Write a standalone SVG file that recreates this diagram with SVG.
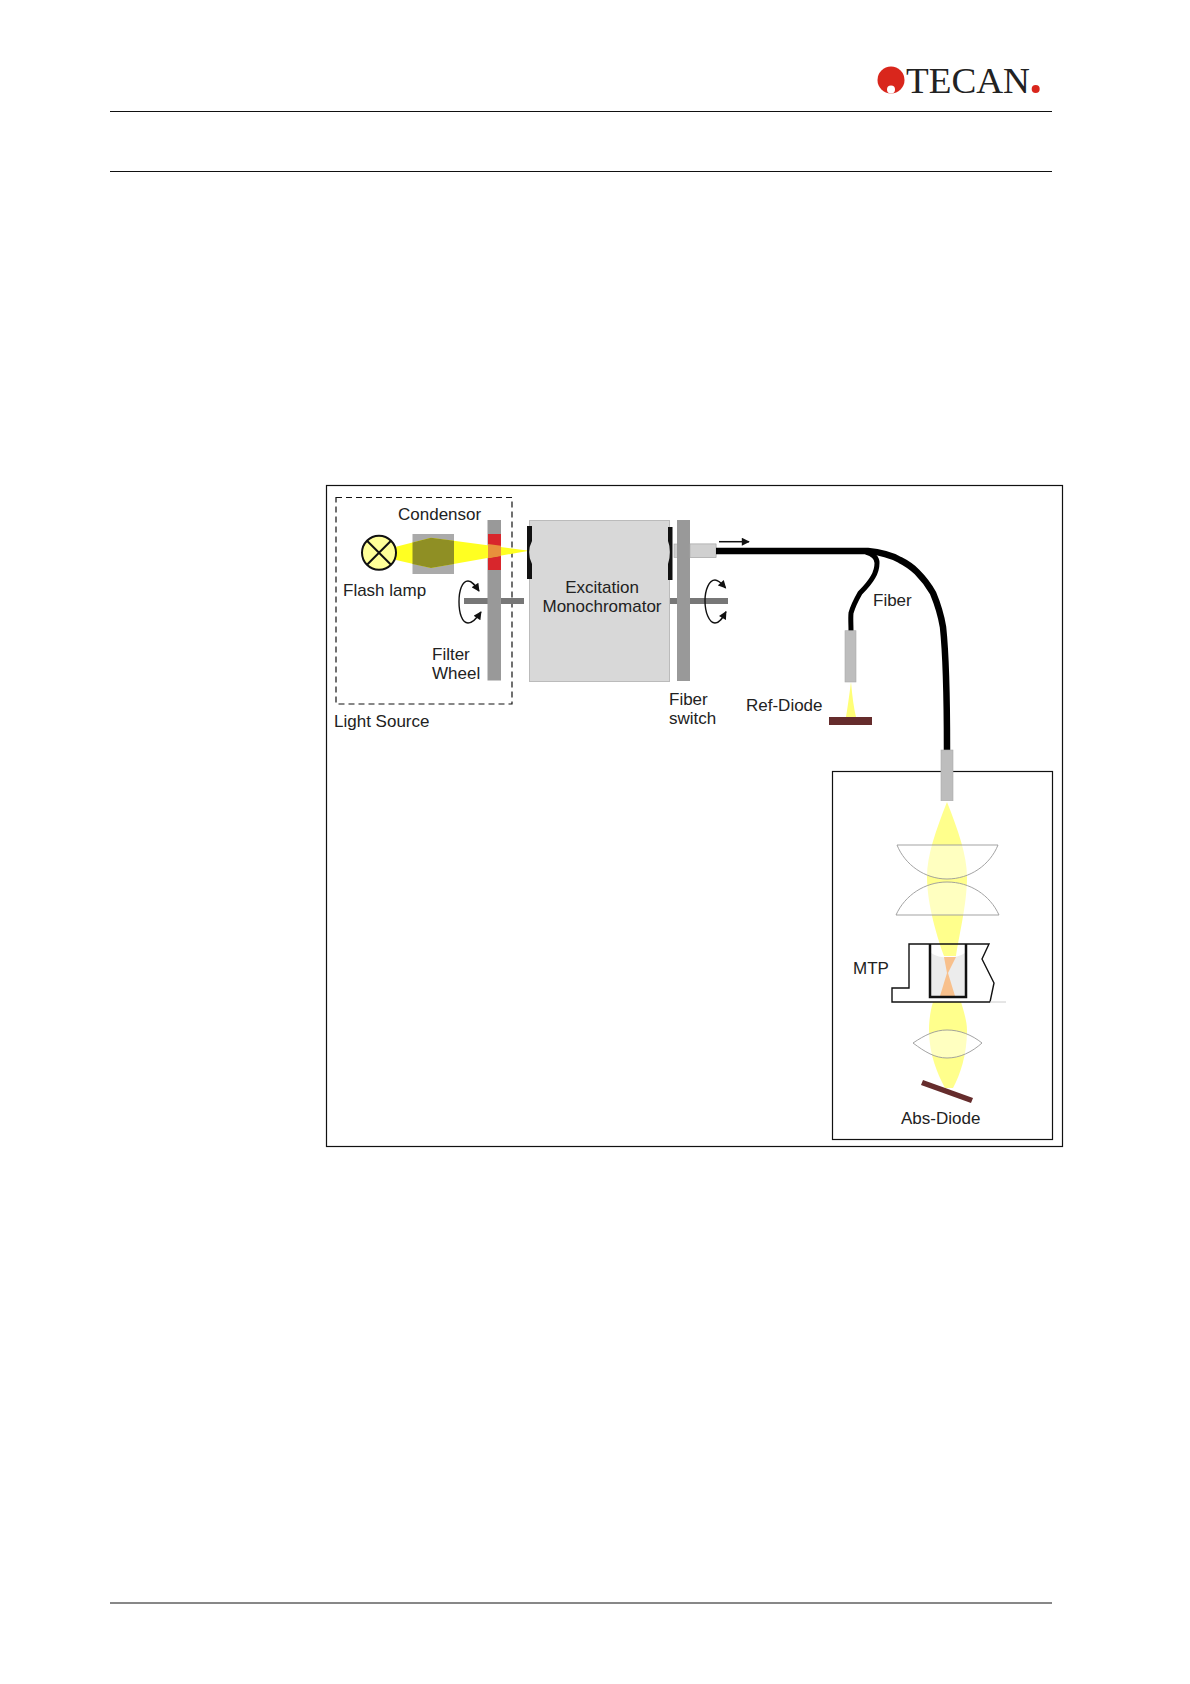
<svg xmlns="http://www.w3.org/2000/svg" width="1190" height="1684" viewBox="0 0 1190 1684">
<style>
text{font-family:"Liberation Sans",Arial,sans-serif;font-size:17px;fill:#222}
.rule{stroke:#111;stroke-width:1;fill:none}
.frame{fill:none;stroke:#111;stroke-width:1.2}
.wheel{fill:#999}
.axle{fill:#777}
.ferrule{fill:#bdbdbd;stroke:#aaa;stroke-width:.6}
.beam{fill:#ffff8c}
.lens{fill:#fff;fill-opacity:.45;stroke:#999;stroke-width:.9}
.rot{fill:none;stroke:#111;stroke-width:1.4;marker-start:url(#ah);marker-end:url(#ah)}
.fiber{fill:none;stroke:#000;stroke-linecap:butt;stroke-linejoin:round}
.slit{fill:#111}
.diode{fill:#652c2c}
</style>
<defs>
<marker id="ah" viewBox="0 0 10 10" refX="9" refY="5" markerWidth="9" markerHeight="8" markerUnits="userSpaceOnUse" orient="auto-start-reverse"><path d="M0 0L10 5L0 10Z" fill="#111"/></marker>
<marker id="ah2" viewBox="0 0 10 10" refX="9" refY="5" markerWidth="9" markerHeight="8" markerUnits="userSpaceOnUse" orient="auto"><path d="M0 0L10 5L0 10Z" fill="#111"/></marker>
</defs>
<rect width="1190" height="1684" fill="#fff"/>
<g id="page-rules">
<path class="rule" d="M110 111.500H1052M110 171.500H1052M110 1603H1052"/>
</g>
<g id="logo">
<circle cx="891" cy="80" r="13.500" fill="#d9261c"/>
<circle cx="891" cy="89.500" r="4" fill="#fff"/>
<text x="906" y="93" textLength="124" lengthAdjust="spacingAndGlyphs" style="font-family:'Liberation Serif',serif;font-size:36px;fill:#222">TECAN</text>
<circle cx="1035.700" cy="89" r="4" fill="#d9261c"/>
</g>
<rect id="outer-frame" class="frame" x="326.500" y="485.500" width="736" height="661"/>
<rect id="sample-box" class="frame" x="832.500" y="771.500" width="220" height="368"/>
<g id="light-source">
<rect x="336" y="497.500" width="176" height="206.500" fill="none" stroke="#111" stroke-width="1.2" stroke-dasharray="6 4"/>
<text x="334" y="727">Light Source</text>
</g>
<g id="condensor">
<rect x="412.500" y="534" width="41.500" height="40" fill="#aaa"/>
<text x="398" y="520">Condensor</text>
</g>
<g id="filter-wheel">
<rect class="axle" x="464" y="598" width="60" height="6"/>
<rect class="wheel" x="487.500" y="520" width="13.500" height="160.500"/>
<rect x="488" y="534" width="13" height="36" fill="#d8262c"/>
<path class="rot" d="M479 591C475 585 472 581 468 581C462 581 459 591 459 601.700C459 613 462 623 468 623C473 623 477 618 481 612"/>
<text x="432" y="660">Filter</text>
<text x="432" y="679">Wheel</text>
</g>
<g id="excitation-beam">
<path class="beam" style="fill:#ffff22" d="M396 546.700L431 537.700L529 550.700L431 568L396 560Z"/>
<path d="M412.500 542.500L431 537.700L454 540.700V564L431 568L412.500 564Z" fill="#8f8f24"/>
<path d="M488 544L501 545.800V555.900L488 558.200Z" fill="#e8903c"/>
</g>
<g id="flash-lamp">
<circle cx="379" cy="552.700" r="17" fill="#ffff99" stroke="#111" stroke-width="2"/>
<path d="M367 540.700L391 564.700M391 540.700L367 564.700" stroke="#111" stroke-width="2"/>
<text x="343" y="596">Flash lamp</text>
</g>
<g id="excitation-monochromator">
<rect x="529.500" y="520.500" width="140" height="161" fill="#d8d8d8" stroke="#bbb" stroke-width="1"/>
<path class="slit" d="M527 526H532V541Q529 547 529 552Q529 558 532 564V579H527Z"/>
<path class="slit" d="M668 527H672.500V580H668V564Q670 558 670 552Q670 546 668 541Z"/>
<text x="602" y="593" text-anchor="middle">Excitation</text>
<text x="602" y="612" text-anchor="middle">Monochromator</text>
</g>
<g id="fiber-switch">
<rect class="axle" x="670" y="598" width="58" height="6"/>
<rect x="674" y="544" width="42" height="13.500" fill="#d0d0d0" stroke="#aaa" stroke-width=".6"/>
<rect class="wheel" x="677" y="520" width="13" height="161"/>
<rect x="690" y="544" width="26" height="13.500" fill="#d0d0d0" stroke="#aaa" stroke-width=".6"/>
<path class="rot" d="M725.700 588C722 584 719 580 715 580C709 580 705 590 705 600.700C705 612 709 623 715 623C720 623 723 617 726 611.700"/>
<text x="669" y="705">Fiber</text>
<text x="669" y="723.700">switch</text>
</g>
<g id="connectors">
<path class="fiber" stroke-width="6.500" d="M716 551H868C880 552 891 555 900 560C908 564 913 568 917 572C924 579 929 586 933 593C938 605 941 615 943 627C946 655 947 690 947 750"/>
<path class="fiber" stroke-width="5" d="M866 552C873 554 877 558 877 563C877 568 876 572 873 577C869 584 864 589 860 593C856 600 853 606 851 613C850.500 618 851 625 851 631"/>
<path d="M719 541.700H749" fill="none" stroke="#111" stroke-width="1.500" marker-end="url(#ah2)"/>
</g>
<text id="fiber-label" x="873" y="606">Fiber</text>
<g id="ref-diode">
<path class="beam" style="fill:#ffff77" d="M851 682Q848 705 846 717H856Q853 705 851 682Z"/>
<rect class="ferrule" x="845" y="630.700" width="11" height="51.300"/>
<rect class="diode" x="829" y="717" width="43" height="8"/>
<text x="746" y="711">Ref-Diode</text>
</g>
<g id="sample-optics">
<rect class="ferrule" x="941" y="750" width="12" height="50.700"/>
<path class="beam" d="M947 802C936 830 927 855 927 877C927 905 938 940 944 956H956C958 940 967 905 967 877C967 855 958 830 947 802Z"/>
<path class="beam" d="M933 1002C930 1012 929 1022 929 1030C929 1055 938 1075 945 1088H953C960 1075 967 1055 967 1030C967 1022 964 1012 961 1002Z"/>
<path class="lens" d="M897 845H998C990 865 970 879 947 879C925 879 905 865 897 845Z"/>
<path class="lens" d="M896 915C905 895 925 882 947 882C970 882 990 895 999 915Z"/>
<path class="lens" d="M913 1043C925 1035 935 1030 947 1030C960 1030 972 1035 982 1043C972 1052 960 1058 947 1058C935 1058 925 1052 913 1043Z"/>
<path class="diode" d="M923 1080L973 1098L971 1103L921 1085Z"/>
<text x="901" y="1124">Abs-Diode</text>
</g>
<g id="mtp">
<path d="M931 953C940 959 956 959 965 953V996H931Z" fill="#ececec"/>
<path d="M944 957H956L948 973L955 996H940L947 973Z" fill="#f8c08c"/>
<path d="M990 1002L994 983L982 959L989 944H909V988H892V1002H990" fill="none" stroke="#111" stroke-width="1.400"/>
<path d="M990 1002H1006" stroke="#ccc" stroke-width="1"/>
<path d="M930 944V997H966V944" fill="none" stroke="#111" stroke-width="2.500"/>
<text x="853" y="974">MTP</text>
</g>
</svg>
